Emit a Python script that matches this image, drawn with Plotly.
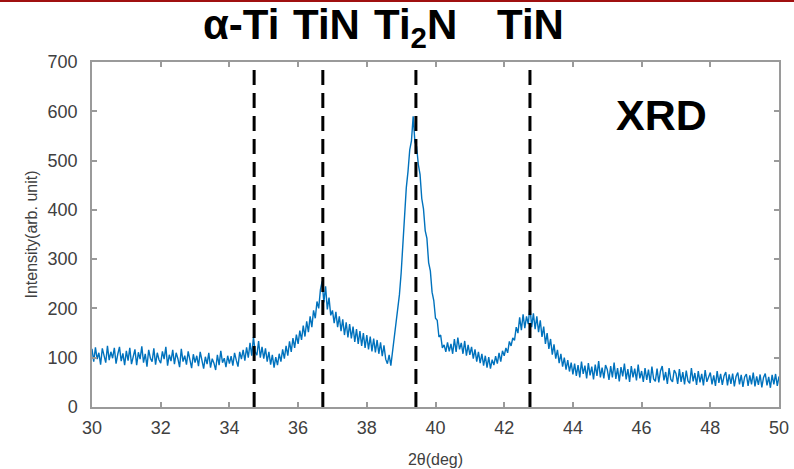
import plotly.graph_objects as go

# ---- data ----
scan_start = 30.0
scan_step = 0.05
intensity = [
    # 30.00-30.95
    118, 92, 121, 97, 110, 86, 119, 104, 90, 124, 95, 112, 99, 120, 88, 107, 122, 93, 109, 85,
    # 31.00-31.95
    114, 94, 120, 87, 106, 117, 85, 111, 97, 123, 90, 108, 82, 116, 99, 92, 119, 86, 110, 96,
    # 32.00-32.95
    89, 113, 97, 122, 84, 106, 93, 116, 87, 110, 98, 81, 118, 92, 104, 86, 113, 95, 79, 107,
    # 33.00-33.95
    90, 104, 83, 112, 91, 78, 102, 87, 110, 80, 98, 89, 75, 106, 85, 114, 90, 99, 81, 104,
    # 34.00-34.95
    88, 103, 84, 110, 95, 82, 112, 97, 116, 94, 121, 100, 130, 104, 142, 112, 105, 134, 100, 122,
    # 35.00-35.95
    98, 119, 92, 112, 86, 106, 80, 101, 85, 108, 92, 117, 98, 124, 104, 133, 112, 140, 120, 147,
    # 36.00-36.95
    128, 155, 136, 165, 143, 174, 152, 184, 162, 196, 180, 214, 200, 238, 255, 212, 245, 198, 222, 186,
    # 37.00-37.95
    196, 170, 193, 162, 184, 154, 178, 146, 172, 141, 168, 139, 163, 132, 158, 128, 154, 124, 150, 120,
    # 38.00-38.95
    146, 117, 143, 113, 139, 111, 136, 108, 131, 103, 125, 97, 88, 106, 84, 112, 140, 168, 198, 228,
    # 39.00-39.95
    272, 335, 380, 445, 478, 522, 540, 590, 538, 528, 492, 472, 423, 402, 358, 342, 293, 276, 233, 216,
    # 40.00-40.95
    180, 176, 142, 146, 120, 126, 112, 131, 113, 128, 108, 138, 112, 141, 117, 130, 108, 134, 104, 126,
    # 41.00-41.95
    106, 122, 98, 117, 92, 112, 89, 108, 84, 104, 80, 101, 78, 96, 85, 103, 88, 110, 92, 114,
    # 42.00-42.95
    104, 120, 110, 133, 124, 140, 135, 162, 150, 182, 156, 188, 160, 184, 168, 205, 162, 190, 158, 184,
    # 43.00-43.95
    152, 176, 142, 163, 128, 150, 118, 138, 106, 127, 98, 116, 89, 108, 82, 100, 76, 95, 72, 90,
    # 44.00-44.95
    66, 88, 63, 85, 60, 92, 67, 84, 58, 89, 64, 82, 56, 86, 63, 93, 60, 80, 58, 85,
    # 45.00-45.95
    76, 55, 83, 60, 90, 57, 79, 52, 81, 62, 88, 56, 77, 51, 83, 60, 78, 54, 86, 58,
    # 46.00-46.95
    73, 51, 79, 55, 76, 49, 82, 57, 52, 78, 50, 73, 83, 54, 71, 47, 79, 56, 51, 75,
    # 47.00-47.95
    68, 47, 77, 51, 71, 46, 74, 53, 48, 79, 52, 69, 45, 73, 50, 67, 44, 75, 51, 60,
    # 48.00-48.95
    70, 46, 64, 43, 73, 49, 67, 45, 63, 71, 44, 66, 47, 68, 42, 62, 70, 46, 65, 41,
    # 49.00-50.00
    61, 67, 43, 64, 46, 70, 42, 62, 45, 66, 40, 60, 68, 44, 61, 39, 65, 46, 67, 43, 62,
]
two_theta = [round(scan_start + scan_step * i, 2) for i in range(len(intensity))]

phase_positions = [34.72, 36.72, 39.43, 42.75]
phase_labels = ["α-Ti", "TiN", "Ti<sub>2</sub>N", "TiN"]
label_positions = [34.35, 36.82, 39.43, 42.78]

x_ticks = list(range(30, 51, 2))
y_ticks = list(range(0, 701, 100))

fig = go.Figure()
fig.add_trace(go.Scatter(
    x=two_theta, y=intensity, mode="lines",
    line=dict(color="#0072BD", width=1.4),
    showlegend=False, hoverinfo="skip",
))

for xp in phase_positions:
    fig.add_shape(type="line", xref="x", yref="y", x0=xp, x1=xp, y0=0, y1=700,
                  line=dict(color="black", width=3, dash="15px,8px"))

for xl, txt in zip(label_positions, phase_labels):
    fig.add_annotation(x=xl, xref="x", y=1.182, yref="paper", text="<b>" + txt + "</b>",
                       showarrow=False, xanchor="center", yanchor="top",
                       font=dict(family="Liberation Sans, Arial", size=42, color="black"))

fig.add_annotation(x=0.829, xref="paper", y=0.845, yref="paper", text="<b>XRD</b>",
                   showarrow=False, xanchor="center", yanchor="middle",
                   font=dict(family="Liberation Sans, Arial", size=43, color="black"))

# thin dark-red rule at the very top of the slide
fig.add_shape(type="line", xref="paper", yref="paper", x0=-0.2, x1=1.1, y0=1.177, y1=1.177,
              line=dict(color="#A01010", width=2))

axis_common = dict(showline=True, linecolor="#9a9a9a", linewidth=1.5, mirror="ticks",
                   ticks="inside", ticklen=5, tickcolor="#9a9a9a", tickwidth=1.5,
                   showgrid=False, zeroline=False, automargin=False,
                   tickfont=dict(family="Liberation Sans, Arial", size=18, color="#404040"))

fig.update_xaxes(range=[30, 50], tickvals=x_ticks, ticktext=[str(v) for v in x_ticks],
                 ticklabelstandoff=4,
                 title=dict(text="2θ(deg)", standoff=16,
                            font=dict(family="Liberation Sans, Arial", size=16, color="#404040")),
                 **axis_common)
fig.update_yaxes(range=[0, 700], tickvals=y_ticks, ticktext=[str(v) for v in y_ticks],
                 ticklabelstandoff=9,
                 title=dict(text="Intensity(arb. unit)", standoff=6,
                            font=dict(family="Liberation Sans, Arial", size=16, color="#404040")),
                 **axis_common)

fig.update_layout(
    width=794, height=469, autosize=False,
    margin=dict(l=92, r=15, t=62, b=62, autoexpand=False),
    paper_bgcolor="white", plot_bgcolor="white",
    showlegend=False,
)

fig.write_html("out.html",
               config={"displayModeBar": False, "responsive": False},
               post_script="document.body.style.margin='0';document.body.style.padding='0';"
                           "document.body.style.overflow='hidden';")
